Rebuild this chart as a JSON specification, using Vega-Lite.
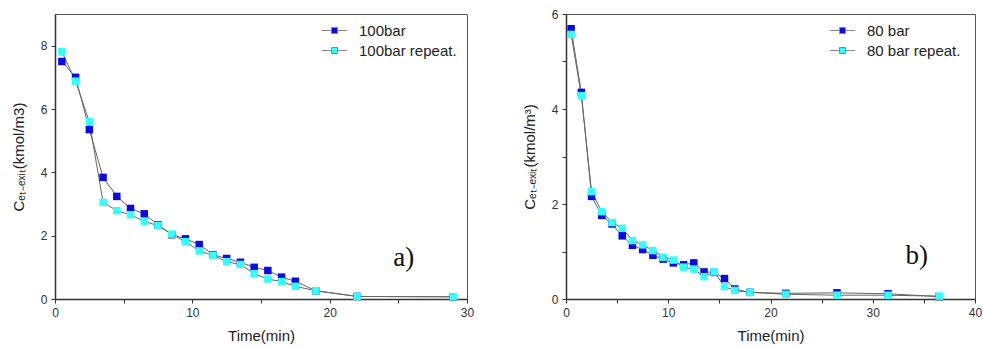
{
  "$schema": "https://vega.github.io/schema/vega-lite/v6.json",
  "padding": {"left": 10, "top": 7, "right": 0, "bottom": 0},
  "spacing": 46,
  "background": "white",
  "config": {
    "view": {"stroke": "#555", "strokeWidth": 1},
    "font": "Liberation Sans",
    "axis": {
      "grid": false,
      "labelFlush": false,
      "domainColor": "#333",
      "domainWidth": 1.5,
      "tickColor": "#333",
      "tickWidth": 1,
      "tickSize": 4,
      "labelColor": "#333",
      "labelFont": "Liberation Sans",
      "labelFontSize": 12,
      "labelPadding": 4,
      "titleFont": "Liberation Sans",
      "titleFontSize": 15,
      "titleFontWeight": "normal",
      "titleColor": "#222"
    },
    "legend": {
      "labelFont": "Liberation Sans",
      "labelFontSize": 15,
      "labelColor": "#222",
      "symbolType": "M-4.25,0H-1M1,0H4.25M-1,-1H1V1H-1Z",
      "symbolSize": 36,
      "symbolStrokeColor": "#888",
      "symbolStrokeWidth": 1,
      "labelOffset": 17,
      "rowPadding": 4,
      "title": null
    }
  },
  "datasets": {
    "a": [
      {"t": 0.5, "c": 7.5, "s": "100bar"},
      {"t": 1.5, "c": 7.0, "s": "100bar"},
      {"t": 2.5, "c": 5.35, "s": "100bar"},
      {"t": 3.5, "c": 3.84, "s": "100bar"},
      {"t": 4.5, "c": 3.24, "s": "100bar"},
      {"t": 5.5, "c": 2.86, "s": "100bar"},
      {"t": 6.5, "c": 2.69, "s": "100bar"},
      {"t": 7.5, "c": 2.34, "s": "100bar"},
      {"t": 8.5, "c": 2.03, "s": "100bar"},
      {"t": 9.5, "c": 1.9, "s": "100bar"},
      {"t": 10.5, "c": 1.72, "s": "100bar"},
      {"t": 11.5, "c": 1.4, "s": "100bar"},
      {"t": 12.5, "c": 1.28, "s": "100bar"},
      {"t": 13.5, "c": 1.16, "s": "100bar"},
      {"t": 14.5, "c": 1.0, "s": "100bar"},
      {"t": 15.5, "c": 0.9, "s": "100bar"},
      {"t": 16.5, "c": 0.69, "s": "100bar"},
      {"t": 17.5, "c": 0.56, "s": "100bar"},
      {"t": 19, "c": 0.26, "s": "100bar"},
      {"t": 22, "c": 0.08, "s": "100bar"},
      {"t": 29, "c": 0.07, "s": "100bar"},
      {"t": 0.5, "c": 7.81, "s": "100bar repeat."},
      {"t": 1.5, "c": 6.88, "s": "100bar repeat."},
      {"t": 2.5, "c": 5.6, "s": "100bar repeat."},
      {"t": 3.5, "c": 3.05, "s": "100bar repeat."},
      {"t": 4.5, "c": 2.79, "s": "100bar repeat."},
      {"t": 5.5, "c": 2.66, "s": "100bar repeat."},
      {"t": 6.5, "c": 2.45, "s": "100bar repeat."},
      {"t": 7.5, "c": 2.32, "s": "100bar repeat."},
      {"t": 8.5, "c": 2.05, "s": "100bar repeat."},
      {"t": 9.5, "c": 1.81, "s": "100bar repeat."},
      {"t": 10.5, "c": 1.52, "s": "100bar repeat."},
      {"t": 11.5, "c": 1.38, "s": "100bar repeat."},
      {"t": 12.5, "c": 1.18, "s": "100bar repeat."},
      {"t": 13.5, "c": 1.09, "s": "100bar repeat."},
      {"t": 14.5, "c": 0.8, "s": "100bar repeat."},
      {"t": 15.5, "c": 0.63, "s": "100bar repeat."},
      {"t": 16.5, "c": 0.55, "s": "100bar repeat."},
      {"t": 17.5, "c": 0.4, "s": "100bar repeat."},
      {"t": 19, "c": 0.26, "s": "100bar repeat."},
      {"t": 22, "c": 0.08, "s": "100bar repeat."},
      {"t": 29, "c": 0.07, "s": "100bar repeat."}
    ],
    "b": [
      {"t": 0.5, "c": 5.69, "s": "80 bar"},
      {"t": 1.5, "c": 4.35, "s": "80 bar"},
      {"t": 2.5, "c": 2.16, "s": "80 bar"},
      {"t": 3.5, "c": 1.76, "s": "80 bar"},
      {"t": 4.5, "c": 1.58, "s": "80 bar"},
      {"t": 5.5, "c": 1.33, "s": "80 bar"},
      {"t": 6.5, "c": 1.13, "s": "80 bar"},
      {"t": 7.5, "c": 1.04, "s": "80 bar"},
      {"t": 8.5, "c": 0.92, "s": "80 bar"},
      {"t": 9.5, "c": 0.84, "s": "80 bar"},
      {"t": 10.5, "c": 0.76, "s": "80 bar"},
      {"t": 11.5, "c": 0.72, "s": "80 bar"},
      {"t": 12.5, "c": 0.76, "s": "80 bar"},
      {"t": 13.5, "c": 0.57, "s": "80 bar"},
      {"t": 14.5, "c": 0.56, "s": "80 bar"},
      {"t": 15.5, "c": 0.43, "s": "80 bar"},
      {"t": 16.5, "c": 0.21, "s": "80 bar"},
      {"t": 18, "c": 0.14, "s": "80 bar"},
      {"t": 21.5, "c": 0.12, "s": "80 bar"},
      {"t": 26.5, "c": 0.13, "s": "80 bar"},
      {"t": 31.5, "c": 0.11, "s": "80 bar"},
      {"t": 36.5, "c": 0.05, "s": "80 bar"},
      {"t": 0.5, "c": 5.57, "s": "80 bar repeat."},
      {"t": 1.5, "c": 4.28, "s": "80 bar repeat."},
      {"t": 2.5, "c": 2.26, "s": "80 bar repeat."},
      {"t": 3.5, "c": 1.84, "s": "80 bar repeat."},
      {"t": 4.5, "c": 1.61, "s": "80 bar repeat."},
      {"t": 5.5, "c": 1.49, "s": "80 bar repeat."},
      {"t": 6.5, "c": 1.23, "s": "80 bar repeat."},
      {"t": 7.5, "c": 1.14, "s": "80 bar repeat."},
      {"t": 8.5, "c": 1.02, "s": "80 bar repeat."},
      {"t": 9.5, "c": 0.88, "s": "80 bar repeat."},
      {"t": 10.5, "c": 0.82, "s": "80 bar repeat."},
      {"t": 11.5, "c": 0.67, "s": "80 bar repeat."},
      {"t": 12.5, "c": 0.63, "s": "80 bar repeat."},
      {"t": 13.5, "c": 0.47, "s": "80 bar repeat."},
      {"t": 14.5, "c": 0.57, "s": "80 bar repeat."},
      {"t": 15.5, "c": 0.26, "s": "80 bar repeat."},
      {"t": 16.5, "c": 0.18, "s": "80 bar repeat."},
      {"t": 18, "c": 0.14, "s": "80 bar repeat."},
      {"t": 21.5, "c": 0.1, "s": "80 bar repeat."},
      {"t": 26.5, "c": 0.08, "s": "80 bar repeat."},
      {"t": 31.5, "c": 0.08, "s": "80 bar repeat."},
      {"t": 36.5, "c": 0.06, "s": "80 bar repeat."}
    ]
  },
  "hconcat": [
    {
      "width": 412,
      "height": 285,
      "data": {"name": "a"},
      "layer": [
        {
          "mark": {"type": "line", "color": "#666", "strokeWidth": 1},
          "encoding": {
            "x": {"field": "t", "type": "quantitative", "scale": {"domain": [0, 30], "nice": false},
                  "axis": {"values": [0, 5, 10, 15, 20, 25, 30], "labelExpr": "datum.value % 10 === 0 ? datum.label : ''", "title": "Time(min)", "titlePadding": 10}},
            "y": {"field": "c", "type": "quantitative", "scale": {"domain": [0, 9], "nice": false},
                  "axis": {"values": [0, 1, 2, 3, 4, 5, 6, 7, 8], "labelExpr": "datum.value % 2 === 0 ? datum.label : ''", "title": "Cₑₜ₋ₑₓᵢₜ(kmol/m3)", "titlePadding": 14}},
            "detail": {"field": "s"}
          }
        },
        {
          "mark": {"type": "point", "shape": "square", "filled": true, "size": 56, "opacity": 1},
          "encoding": {
            "x": {"field": "t", "type": "quantitative"},
            "y": {"field": "c", "type": "quantitative"},
            "color": {"field": "s", "type": "nominal",
                      "scale": {"domain": ["100bar", "100bar repeat."], "range": ["#0a0ae6", "#33ffff"]},
                      "legend": {"orient": "none", "legendX": 272, "legendY": 9}}
          }
        },
        {
          "data": {"values": [{"t": 25.4, "c": 1.3, "label": "a)"}]},
          "mark": {"type": "text", "font": "Liberation Serif", "fontSize": 27, "color": "#111", "baseline": "middle", "align": "center"},
          "encoding": {
            "x": {"field": "t", "type": "quantitative"},
            "y": {"field": "c", "type": "quantitative"},
            "text": {"field": "label"}
          }
        }
      ]
    },
    {
      "width": 409,
      "height": 285,
      "data": {"name": "b"},
      "layer": [
        {
          "mark": {"type": "line", "color": "#666", "strokeWidth": 1},
          "encoding": {
            "x": {"field": "t", "type": "quantitative", "scale": {"domain": [0, 40], "nice": false},
                  "axis": {"values": [0, 5, 10, 15, 20, 25, 30, 35, 40], "labelExpr": "datum.value % 10 === 0 ? datum.label : ''", "title": "Time(min)", "titlePadding": 10}},
            "y": {"field": "c", "type": "quantitative", "scale": {"domain": [0, 6], "nice": false},
                  "axis": {"values": [0, 1, 2, 3, 4, 5, 6], "labelExpr": "datum.value % 2 === 0 ? datum.label : ''", "title": "Cₑₜ₋ₑₓᵢₜ(kmol/m³)", "titlePadding": 14}},
            "detail": {"field": "s"}
          }
        },
        {
          "mark": {"type": "point", "shape": "square", "filled": true, "size": 56, "opacity": 1},
          "encoding": {
            "x": {"field": "t", "type": "quantitative"},
            "y": {"field": "c", "type": "quantitative"},
            "color": {"field": "s", "type": "nominal",
                      "scale": {"domain": ["80 bar", "80 bar repeat."], "range": ["#0a0ae6", "#33ffff"]},
                      "legend": {"orient": "none", "legendX": 269, "legendY": 9}}
          }
        },
        {
          "data": {"values": [{"t": 34.3, "c": 0.9, "label": "b)"}]},
          "mark": {"type": "text", "font": "Liberation Serif", "fontSize": 27, "color": "#111", "baseline": "middle", "align": "center"},
          "encoding": {
            "x": {"field": "t", "type": "quantitative"},
            "y": {"field": "c", "type": "quantitative"},
            "text": {"field": "label"}
          }
        }
      ]
    }
  ],
  "resolve": {"scale": {"color": "independent"}, "legend": {"color": "independent"}}
}
